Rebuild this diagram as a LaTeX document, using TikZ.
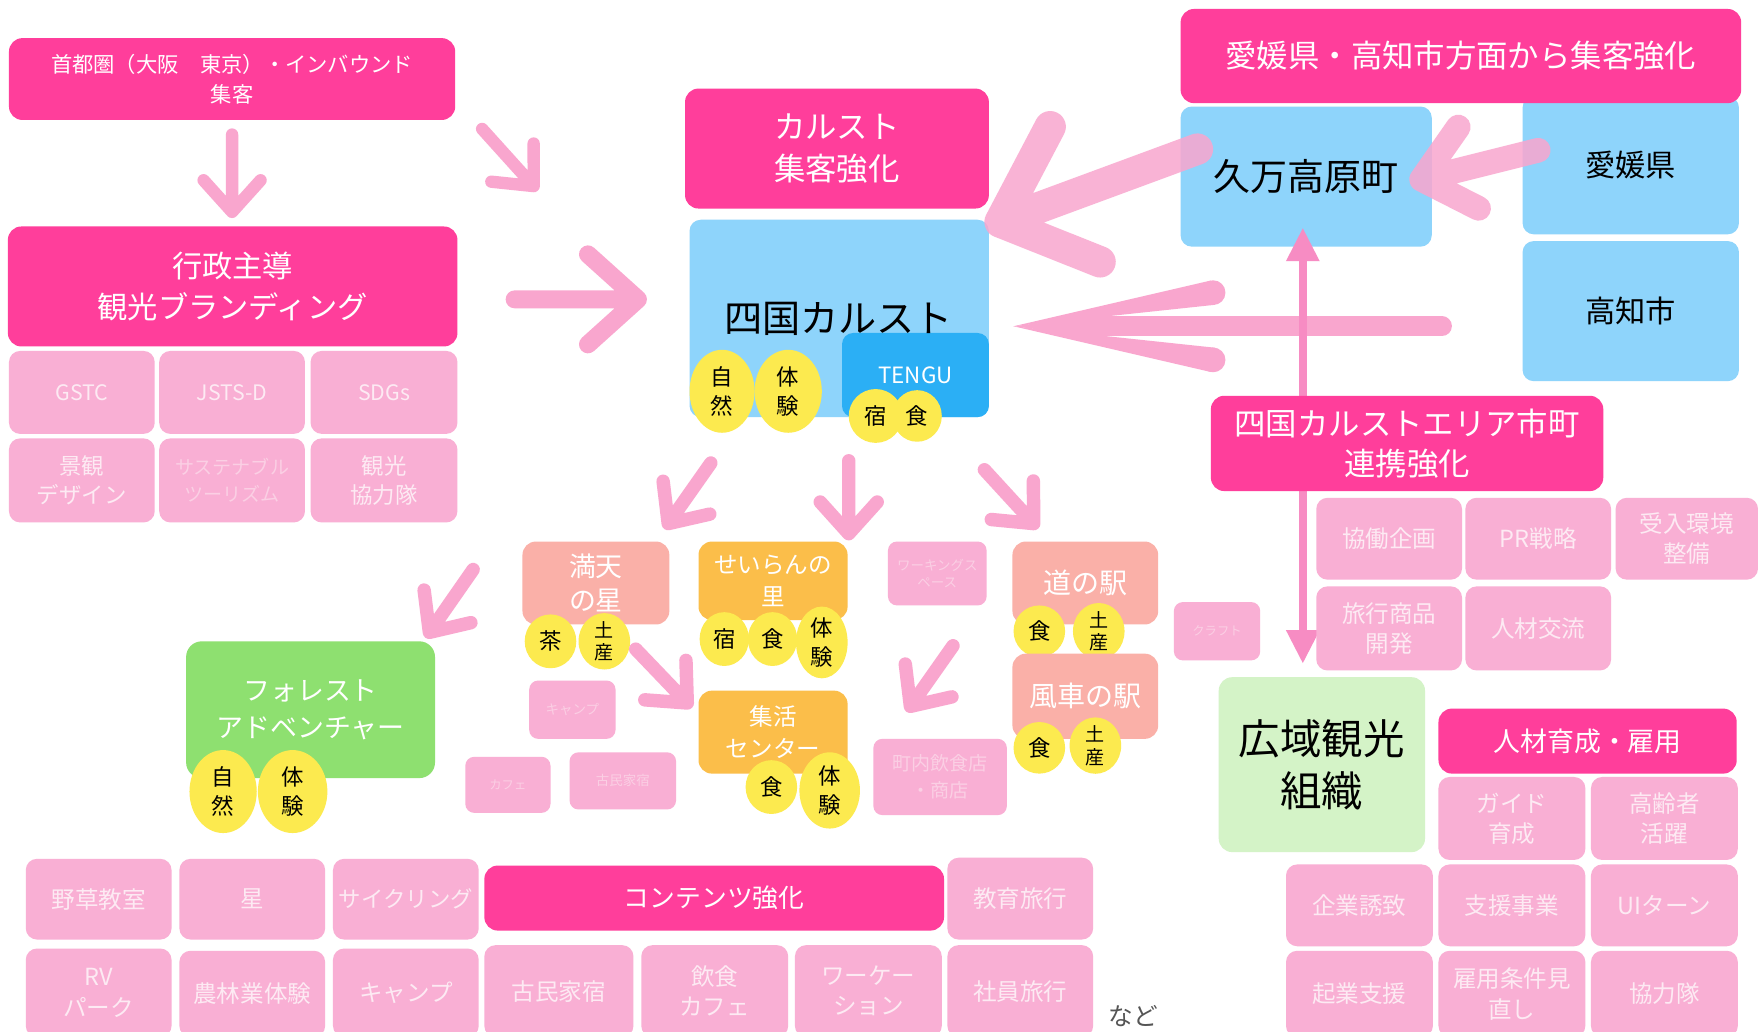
\documentclass[tikz,border=0pt]{standalone}
\usepackage{fontspec}
\setmainfont{Noto Sans CJK JP}
\usetikzlibrary{calc,shapes.geometric,arrows.meta}
\definecolor{hp}{RGB}{255,62,155}
\definecolor{lp}{RGB}{249,175,212}
\definecolor{ap}{RGB}{249,166,206}
\definecolor{vp}{RGB}{247,140,195}
\definecolor{lb}{RGB}{142,212,251}
\definecolor{db}{RGB}{43,175,245}
\definecolor{yl}{RGB}{252,234,79}
\definecolor{sa}{RGB}{250,176,168}
\definecolor{og}{RGB}{251,190,74}
\definecolor{gr}{RGB}{142,224,112}
\definecolor{lg}{RGB}{212,243,199}
\definecolor{wt}{RGB}{253,234,243}
\definecolor{ft}{RGB}{251,207,228}
\definecolor{tx}{RGB}{85,85,85}
\newcommand\fsz[2]{\fontsize{#1}{#2}\selectfont}
\newcommand\bx[8][]{\pgfmathsetmacro\bxw{#5-#3}\pgfmathsetmacro\bxh{#6-#4}%
  \node[#2,minimum width=\bxw pt,minimum height=\bxh pt,inner sep=0pt,#1] (#7) at ({(#3+#5)/2},{(#4+#6)/2}) {#8};}
\newcommand\ye[6][]{\node[yel,minimum width=#4pt,minimum height=#5pt,#1] (#2) at (#3) {#6};}
\newcommand\chev[6][]{\draw[pa=#6,#1] (#2) -- (#3) ($(#3)!#4pt!#5:(#2)$) -- (#3) -- ($(#3)!#4pt!-#5:(#2)$);}
\newcommand\tear[3]{\fill[ap] (#1) -- ($(#2)!#3pt!90:(#1)$) -- ($(#2)!#3pt!-90:(#1)$) -- cycle; \fill[ap] (#2) circle[radius=#3pt];}
\begin{document}
\begin{tikzpicture}[x=1pt,y=-1pt,
  hpb/.style={fill=hp, rounded corners=12pt, text=white, align=center},
  cell/.style={fill=lp, rounded corners=10pt, text=wt, align=center, font=\fsz{21}{27}},
  tinyb/.style={fill=lp, rounded corners=8pt, text=ft, align=center},
  blb/.style={fill=lb, rounded corners=10pt, text=black, align=center, font=\fsz{27}{34}},
  dbb/.style={fill=db, rounded corners=10pt, text=white, align=center},
  sab/.style={fill=sa, rounded corners=12pt, text=white, align=center},
  ogb/.style={fill=og, rounded corners=12pt, text=white, align=center},
  grb/.style={fill=gr, rounded corners=14pt, text=white, align=center},
  lgb/.style={fill=lg, rounded corners=12pt, text=black, align=center},
  yel/.style={ellipse, fill=yl, inner sep=0pt, align=center, text=black, font=\fsz{20}{26}},
  pa/.style={draw=ap, line width=#1pt, line cap=round, line join=round}]
\fill[white] (0,0) rectangle (1568,920);
\useasboundingbox (0,0) rectangle (1568,920);

% ---------- top left ----------
\bx{hpb,font=\fsz{19}{27}}{8}{34}{406}{107}{shuto}{首都圏（大阪　東京）・インバウンド\\集客}
\bx{hpb,font=\fsz{27}{36}}{7}{202}{408}{309}{gyosei}{行政主導\\観光ブランディング}
\bx{cell,font=\fsz{19}{26}}{8}{313}{138}{387}{gstc}{GSTC}
\bx{cell,font=\fsz{19}{26}}{142}{313}{272}{387}{jsts}{JSTS-D}
\bx{cell,font=\fsz{19}{26}}{277}{313}{408}{387}{sdgs}{SDGs}
\bx{cell,font=\fsz{20}{26}}{8}{391}{138}{466}{keikan}{景観\\デザイン}
\bx{cell,text=ft,font=\fsz{17}{24}}{142}{391}{272}{466}{sust}{サステナブル\\ツーリズム}
\bx{cell,font=\fsz{20}{26}}{277}{391}{408}{466}{kyoryoku1}{観光\\協力隊}

% ---------- centre ----------
\bx{hpb,font=\fsz{28}{37}}{611}{79}{882}{186}{karstc}{カルスト\\集客強化}
\bx{blb}{615}{196}{882}{372}{shikoku}{}
\bx{dbb,font=\fsz{20}{24}}{751}{297}{882}{372}{tengu}{TENGU}
\node[font=\fsz{34}{40}, text=black] (shikokulbl) at (748,284) {四国カルスト};
\ye{shizen1}{644,349}{58}{74}{自\\然}
\ye{taiken1}{703,349}{60}{74}{体\\験}
\ye{yado1}{781,371}{48}{48}{宿}
\ye{shoku1}{818,371}{44}{46}{食}

% ---------- right top ----------
\bx{blb}{1358}{86}{1551}{209}{ehime}{愛媛県}
\bx{blb}{1358}{215}{1551}{340}{kochi}{高知市}
\bx{hpb,font=\fsz{28}{34}}{1053}{8}{1553}{92}{ehimehdr}{愛媛県・高知市方面から集客強化}
\bx{blb,font=\fsz{33}{40}}{1053}{95}{1277}{220}{kuma}{久万高原町}

% long arrow kochi -> shikoku
\coordinate (lt) at (904,291);
\coordinate (ls) at (1286,291);
\draw[ap, line width=18pt, line cap=round] (960,291) -- (ls);
\fill[ap] (lt) -- (975,282) -- (975,300) -- cycle;
\coordinate (la1) at (1082,261);
\coordinate (la2) at (1082,321);
\tear{lt}{la1}{11}
\tear{lt}{la2}{11}

% vertical double arrow kuma <-> koiki
\coordinate (v1) at (1162,203);
\coordinate (v2) at (1162,592);
\draw[vp, line width=7pt, {Triangle[length=30pt,width=28pt]}-{Triangle[length=30pt,width=28pt]}] (v1) -- (v2);

\bx{hpb,font=\fsz{28}{36}}{1080}{353}{1430}{438}{renkei}{四国カルストエリア市町\\連携強化}
\bx{cell}{1174}{444}{1304}{517}{kyodo}{協働企画}
\bx{cell}{1307}{444}{1437}{517}{pr}{PR戦略}
\bx{cell}{1441}{444}{1568}{517}{ukeire}{受入環境\\整備}
\bx{cell}{1174}{523}{1304}{598}{ryoko}{旅行商品\\開発}
\bx{cell}{1307}{523}{1437}{598}{jinzai}{人材交流}
\bx{tinyb,font=\fsz{11}{14}}{1047}{537}{1124}{589}{craft}{クラフト}
\bx{lgb,font=\fsz{37}{46}}{1087}{604}{1271}{760}{koiki}{広域観光\\組織}
\bx{hpb,font=\fsz{24}{30}}{1283}{632}{1549}{690}{ikusei}{人材育成・雇用}
\bx{cell}{1283}{693}{1414}{767}{guide}{ガイド\\育成}
\bx{cell}{1419}{693}{1550}{767}{koreisha}{高齢者\\活躍}
\bx{cell}{1147}{771}{1278}{844}{yuchi}{企業誘致}
\bx{cell}{1283}{771}{1414}{844}{shien}{支援事業}
\bx{cell}{1419}{771}{1550}{844}{uiturn}{UIターン}
\bx{cell}{1147}{848}{1278}{925}{kigyo}{起業支援}
\bx{cell}{1283}{848}{1414}{925}{koyo}{雇用条件見\\直し}
\bx{cell}{1419}{848}{1550}{925}{kyoryoku2}{協力隊}

% ---------- middle ----------
\bx{sab,font=\fsz{24}{31}}{466}{483}{597}{557}{manten}{満天\\の星}
\ye{cha}{491,572}{46}{48}{茶}
\ye[font=\fsz{17}{20}]{dosan1}{539,572}{46}{48}{土\\産}
\bx{ogb,font=\fsz{21}{29}}{623}{483}{756}{553}{seiran}{せいらんの\\里}
\ye{yado2}{646,570}{44}{48}{宿}
\ye{shoku2}{689,570}{44}{48}{食}
\ye{taiken2}{733,573}{46}{64}{体\\験}
\bx{tinyb,font=\fsz{12}{15}}{792}{483}{880}{540}{working}{ワーキングス\\ペース}
\bx{sab,font=\fsz{25}{30}}{903}{483}{1033}{557}{michi}{道の駅}
\ye{shoku3}{927,563}{46}{46}{食}
\ye[font=\fsz{17}{20}]{dosan2}{980,563}{46}{48}{土\\産}
\bx{sab,font=\fsz{25}{30}}{903}{583}{1033}{659}{fusha}{風車の駅}
\ye{shoku4}{927,667}{46}{46}{食}
\ye[font=\fsz{17}{20}]{dosan3}{977,665}{46}{48}{土\\産}
\bx{tinyb,font=\fsz{12}{15}}{472}{607}{549}{659}{camp1}{キャンプ}
\bx{ogb,font=\fsz{21}{29}}{623}{616}{756}{690}{shukatsu}{集活\\センター}
\ye{shoku5}{688,702}{46}{48}{食}
\ye{taiken3}{740,705}{54}{68}{体\\験}
\bx{tinyb,font=\fsz{17}{24}}{779}{659}{898}{727}{chonai}{町内飲食店\\・商店}
\bx{tinyb,font=\fsz{11}{14}}{415}{675}{491}{725}{cafe1}{カフェ}
\bx{tinyb,font=\fsz{12}{15}}{508}{671}{603}{722}{kominka1}{古民家宿}
\bx{grb,font=\fsz{24}{33}}{166}{572}{388}{694}{forest}{フォレスト\\アドベンチャー}
\ye{shizen2}{199,706}{60}{74}{自\\然}
\ye{taiken4}{261,706}{62}{74}{体\\験}

% ---------- bottom ----------
\bx{cell}{23}{766}{153}{838}{yaso}{野草教室}
\bx{cell}{160}{766}{290}{838}{hoshi}{星}
\bx{cell,font=\fsz{20}{26}}{297}{766}{427}{838}{cycling}{サイクリング}
\bx{hpb,font=\fsz{23}{28}}{432}{772}{842}{830}{contents}{コンテンツ強化}
\bx{cell}{845}{765}{975}{838}{kyoiku}{教育旅行}
\bx{cell}{23}{846}{153}{925}{rv}{RV\\パーク}
\bx{cell}{160}{848}{290}{925}{norin}{農林業体験}
\bx{cell}{297}{846}{427}{925}{camp2}{キャンプ}
\bx{cell}{432}{843}{565}{925}{kominka2}{古民家宿}
\bx{cell}{572}{843}{703}{925}{inshoku}{飲食\\カフェ}
\bx{cell}{709}{843}{840}{925}{workation}{ワーケー\\ション}
\bx{cell}{845}{843}{975}{925}{shain}{社員旅行}
\node[text=tx, font=\fsz{22}{26}] (nado) at (1011,906) {など};

% ---------- arrows ----------
\coordinate (a1s) at (207,120); \coordinate (a1t) at (207,189);
\chev{a1s}{a1t}{38}{42}{11}
\coordinate (a2s) at (430,115); \coordinate (a2t) at (476,166);
\chev{a2s}{a2t}{38}{42}{11}
\coordinate (a3s) at (459,267); \coordinate (a3t) at (569,267);
\chev{a3s}{a3t}{60}{42}{16}
\coordinate (a4s) at (634,413); \coordinate (a4t) at (596,467);
\chev{a4s}{a4t}{38}{42}{12}
\coordinate (a5s) at (757,411); \coordinate (a5t) at (757,476);
\chev{a5s}{a5t}{38}{42}{12}
\coordinate (a6s) at (878,419); \coordinate (a6t) at (922,467);
\chev{a6s}{a6t}{38}{42}{12}
\coordinate (a7s) at (422,508); \coordinate (a7t) at (383,564);
\chev{a7s}{a7t}{38}{42}{12}
\coordinate (a8s) at (567,579); \coordinate (a8t) at (613,627);
\chev{a8s}{a8t}{38}{42}{12}
\coordinate (a9s) at (850,576); \coordinate (a9t) at (812,630);
\chev{a9s}{a9t}{38}{42}{12}
\coordinate (b1s) at (1068,133); \coordinate (b1t) at (892,198);
\chev[opacity=0.85]{b1s}{b1t}{96}{42}{28}
\coordinate (b2s) at (1372,134); \coordinate (b2t) at (1268,160);
\chev[opacity=0.85]{b2s}{b2t}{57}{41}{22}
\end{tikzpicture}
\end{document}
